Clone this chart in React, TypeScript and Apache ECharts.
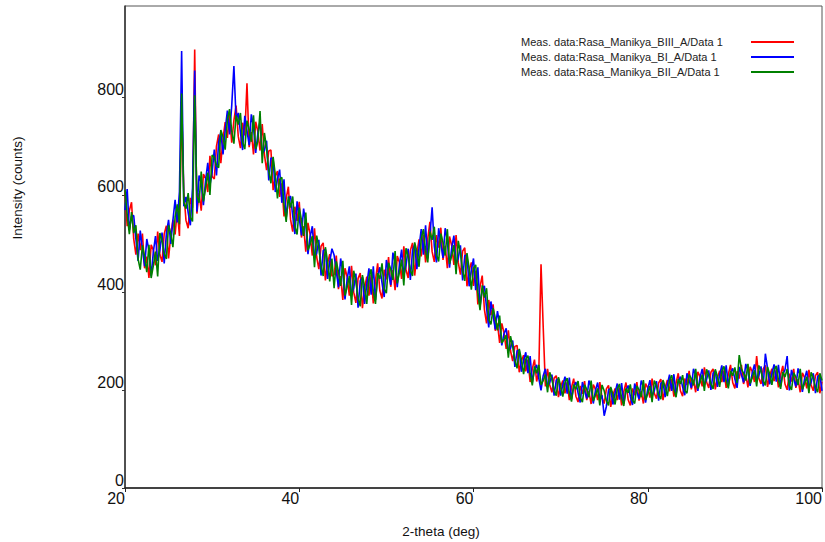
import React, { useEffect, useRef } from "react";
import * as echarts from "echarts";

const THETA_START = 20;
const THETA_STEP = 0.25;

const SERIES_NAMES = [
  "Meas. data:Rasa_Manikya_BIII_A/Data 1",
  "Meas. data:Rasa_Manikya_BI_A/Data 1",
  "Meas. data:Rasa_Manikya_BII_A/Data 1",
];
const SERIES_COLORS = ["#ff0000", "#0000ff", "#008000"];

const X_TITLE = "2-theta (deg)";
const Y_TITLE = "Intensity (counts)";

// Intensities sampled every 0.25 deg from 20 to 100 deg (16 values = 4 deg per row)
const RED = [
  609, 536, 568, 585, 510, 478, 521, 487, 521, 450, 474, 430, 498, 487, 456, 525,
  478, 463, 520, 537, 470, 517, 549, 519, 569, 516, 780, 605, 548, 532, 594, 574,
  898, 562, 604, 568, 643, 634, 606, 680, 638, 633, 700, 724, 665, 715, 749, 717,
  764, 707, 753, 783, 720, 696, 748, 722, 829, 698, 729, 683, 750, 730, 691, 745,
  683, 651, 690, 692, 610, 638, 649, 596, 624, 556, 593, 617, 550, 525, 576, 547,
  586, 513, 536, 484, 543, 519, 476, 532, 473, 448, 495, 502, 425, 460, 479, 434,
  437, 476, 407, 434, 385, 450, 432, 394, 455, 401, 379, 429, 440, 368, 409, 433,
  394, 436, 378, 425, 460, 404, 388, 447, 427, 473, 412, 446, 405, 475, 462, 428,
  495, 447, 430, 486, 502, 435, 480, 509, 474, 518, 462, 510, 545, 484, 463, 518,
  492, 533, 467, 496, 450, 515, 496, 457, 518, 462, 437, 485, 492, 413, 445, 462,
  414, 445, 376, 412, 435, 366, 337, 385, 354, 376, 322, 337, 297, 337, 318, 285,
  323, 281, 260, 290, 292, 237, 260, 272, 239, 263, 217, 244, 263, 218, 240, 458,
  330, 208, 244, 211, 196, 225, 230, 186, 208, 220, 194, 217, 180, 206, 224, 188,
  176, 209, 193, 219, 180, 198, 172, 212, 202, 180, 217, 185, 173, 203, 210, 166,
  190, 204, 180, 205, 169, 197, 216, 181, 169, 204, 190, 217, 179, 198, 173, 214,
  205, 185, 224, 194, 183, 215, 223, 180, 205, 221, 198, 223, 187, 215, 235, 199,
  188, 224, 211, 240, 202, 222, 196, 238, 228, 208, 247, 217, 205, 237, 244, 202,
  226, 240, 217, 241, 205, 233, 252, 216, 204, 239, 224, 252, 213, 232, 206, 248,
  238, 217, 270, 225, 213, 244, 251, 207, 231, 244, 219, 242, 206, 232, 250, 213,
  201, 234, 218, 244, 205, 223, 196, 236, 226, 204, 242, 211, 199, 230, 237, 194,
  218,
];

const BLUE = [
  569, 612, 528, 557, 558, 510, 465, 527, 489, 454, 510, 486, 434, 483, 516, 465,
  486, 523, 460, 521, 549, 500, 548, 590, 544, 607, 895, 577, 596, 564, 538, 614,
  855, 566, 640, 624, 579, 630, 666, 620, 646, 693, 640, 708, 729, 683, 733, 773,
  724, 783, 864, 755, 768, 728, 692, 762, 732, 702, 765, 739, 686, 726, 751, 685,
  691, 711, 630, 676, 674, 606, 633, 652, 584, 632, 553, 589, 598, 557, 520, 587,
  554, 517, 572, 540, 479, 515, 536, 472, 481, 508, 435, 486, 489, 428, 463, 490,
  477, 444, 411, 470, 441, 386, 428, 454, 395, 409, 439, 369, 424, 432, 377, 417,
  450, 396, 454, 385, 432, 452, 420, 391, 467, 441, 416, 482, 461, 411, 458, 488,
  435, 455, 490, 426, 486, 499, 448, 493, 530, 478, 538, 470, 517, 575, 495, 462,
  532, 501, 471, 532, 506, 451, 492, 517, 458, 470, 497, 425, 476, 477, 413, 446,
  470, 405, 452, 372, 407, 414, 369, 329, 382, 354, 325, 362, 336, 292, 316, 327,
  281, 286, 302, 248, 281, 282, 238, 261, 278, 235, 270, 216, 243, 252, 224, 200,
  230, 244, 208, 216, 232, 189, 221, 224, 189, 211, 228, 193, 226, 182, 207, 217,
  195, 175, 217, 199, 183, 220, 206, 173, 200, 216, 181, 190, 148, 167, 201, 204,
  171, 195, 214, 181, 215, 173, 199, 210, 188, 170, 214, 197, 182, 220, 207, 175,
  203, 221, 188, 199, 219, 179, 214, 218, 186, 212, 232, 199, 233, 191, 218, 228,
  207, 190, 235, 220, 205, 244, 230, 199, 226, 244, 211, 222, 241, 201, 235, 240,
  207, 231, 251, 217, 251, 209, 235, 245, 223, 205, 248, 232, 216, 254, 240, 209,
  236, 253, 220, 230, 249, 208, 275, 245, 212, 235, 253, 218, 252, 208, 233, 242,
  270, 200, 242, 224, 208, 245, 230, 197, 224, 240, 206, 216, 235, 194, 228, 232,
  199,
];

const GREEN = [
  610, 560, 520, 565, 522, 538, 469, 447, 497, 474, 442, 498, 430, 455, 484, 433,
  522, 507, 480, 469, 538, 521, 493, 555, 581, 540, 808, 585, 572, 604, 554, 546,
  804, 598, 584, 648, 587, 614, 646, 600, 682, 677, 660, 656, 733, 719, 693, 753,
  776, 731, 705, 763, 744, 768, 708, 694, 752, 734, 709, 763, 694, 710, 772, 665,
  727, 695, 650, 624, 678, 642, 593, 632, 636, 580, 545, 597, 574, 597, 536, 519,
  574, 549, 516, 564, 487, 499, 516, 452, 517, 492, 455, 434, 493, 464, 423, 470,
  409, 464, 443, 414, 465, 394, 412, 434, 375, 445, 423, 389, 372, 436, 413, 377,
  430, 448, 402, 377, 440, 428, 460, 407, 399, 461, 448, 426, 485, 419, 442, 468,
  415, 491, 474, 446, 434, 503, 484, 453, 510, 530, 486, 462, 525, 508, 535, 478,
  464, 521, 503, 476, 530, 459, 476, 497, 438, 506, 481, 445, 424, 481, 449, 406,
  450, 457, 400, 364, 415, 390, 409, 345, 335, 368, 348, 323, 353, 297, 304, 313,
  267, 311, 290, 262, 245, 285, 263, 233, 264, 271, 234, 210, 249, 235, 252, 211,
  220, 232, 196, 237, 222, 201, 189, 227, 210, 187, 216, 225, 195, 177, 212, 202,
  219, 185, 176, 211, 202, 186, 220, 178, 190, 204, 169, 211, 199, 179, 169, 207,
  192, 171, 202, 213, 184, 168, 204, 195, 212, 180, 173, 209, 201, 186, 221, 180,
  193, 209, 176, 220, 209, 191, 182, 221, 207, 188, 220, 231, 202, 186, 223, 213,
  231, 200, 194, 232, 224, 210, 244, 204, 216, 232, 199, 243, 231, 213, 203, 243,
  228, 207, 239, 249, 220, 204, 240, 230, 247, 215, 272, 244, 235, 220, 254, 214,
  226, 241, 208, 251, 239, 220, 210, 248, 233, 211, 241, 250, 221, 203, 238, 227,
  244, 210, 201, 236, 227, 211, 244, 202, 214, 228, 194, 237, 225, 206, 196, 235,
  220,
];

const SERIES_VALUES = [RED, BLUE, GREEN];

export default function App() {
  const ref = useRef<HTMLDivElement>(null);

  useEffect(() => {
    document.body.style.margin = "0";
    if (!ref.current) return;
    const chart = echarts.init(ref.current, null, { renderer: "svg" });
    const font = "'Liberation Sans', Arial, sans-serif";
    const theta = RED.map((_, i) => +(THETA_START + i * THETA_STEP).toFixed(2));

    const legendGraphics: any[] = [];
    SERIES_NAMES.forEach((name, i) => {
      const y = 42 + i * 15;
      legendGraphics.push({
        type: "text",
        x: 521,
        y,
        style: {
          text: name,
          fontSize: 11,
          fontFamily: font,
          fill: "#222",
          textAlign: "left",
          textVerticalAlign: "middle",
        },
      });
      legendGraphics.push({
        type: "line",
        shape: { x1: 751, y1: y, x2: 794, y2: y },
        style: { stroke: SERIES_COLORS[i], lineWidth: 2 },
      });
    });

    chart.setOption({
      animation: false,
      backgroundColor: "#ffffff",
      grid: {
        left: 125,
        right: 1,
        top: 6,
        bottom: 54,
        show: true,
        borderColor: "#555",
        borderWidth: 1,
        backgroundColor: "transparent",
      },
      xAxis: {
        type: "value",
        min: 20,
        max: 100,
        interval: 20,
        axisLine: { show: true, onZero: false, lineStyle: { color: "#222", width: 1.5 } },
        axisTick: { show: true, inside: false, length: 4, lineStyle: { color: "#222" } },
        axisLabel: {
          color: "#111",
          fontSize: 16,
          fontFamily: font,
          align: "right",
          margin: 2,
        },
        splitLine: { show: false },
      },
      yAxis: {
        type: "value",
        min: 0,
        max: 987,
        interval: 200,
        axisLine: { show: true, onZero: false, lineStyle: { color: "#333", width: 1.5 } },
        axisTick: { show: true, inside: false, length: 3, lineStyle: { color: "#333" } },
        axisLabel: {
          color: "#111",
          fontSize: 16,
          fontFamily: font,
          align: "right",
          verticalAlign: "bottom",
          margin: 1,
          showMaxLabel: false,
        },
        splitLine: { show: false },
      },
      graphic: [
        ...legendGraphics,
        {
          type: "text",
          x: 441,
          y: 531,
          style: {
            text: X_TITLE,
            fontSize: 13.5,
            fontFamily: font,
            fill: "#111",
            textAlign: "center",
            textVerticalAlign: "middle",
          },
        },
        {
          type: "text",
          x: 17,
          y: 188,
          rotation: Math.PI / 2,
          style: {
            text: Y_TITLE,
            fontSize: 13.5,
            fontFamily: font,
            fill: "#111",
            textAlign: "center",
            textVerticalAlign: "middle",
          },
        },
      ],
      series: SERIES_VALUES.map((vals, si) => ({
        name: SERIES_NAMES[si],
        type: "line",
        showSymbol: false,
        symbol: "none",
        lineStyle: { color: SERIES_COLORS[si], width: 1.6 },
        itemStyle: { color: SERIES_COLORS[si] },
        data: vals.map((v, i) => [theta[i], v]),
        z: 2 + si,
      })),
    });

    return () => {
      chart.dispose();
    };
  }, []);

  return (
    <div
      ref={ref}
      style={{ position: "absolute", left: 0, top: 0, width: 825, height: 542 }}
    />
  );
}
